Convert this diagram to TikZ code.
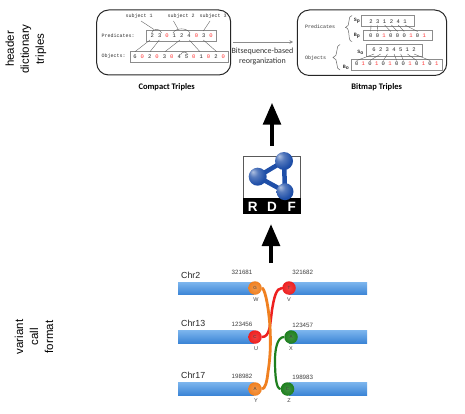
\documentclass[tikz,border=0pt]{standalone}
\usepackage{fontspec}
\setmainfont{Liberation Sans}
\newfontfamily\monof{Liberation Mono}
\newfontfamily\calib{Carlito}
\usetikzlibrary{arrows.meta,calc}
\definecolor{rdfblue}{HTML}{1F4FA8}
\definecolor{bartop}{HTML}{7DB6EE}
\definecolor{barbot}{HTML}{3C85D6}
\definecolor{grn}{HTML}{1E7F1E}
\definecolor{org}{HTML}{F08020}
\definecolor{redd}{HTML}{EE2020}
\pgfdeclareradialshading{bluegloss}{\pgfpoint{-14bp}{14bp}}{color(0bp)=(rdfblue!35!white);color(12bp)=(rdfblue!75!white);color(28bp)=(rdfblue);color(60bp)=(rdfblue!85!black)}
\tikzset{
 x=1pt,y=-1pt,
 side/.style={rotate=90,align=center,font=\fontsize{11.5}{15}\selectfont,inner sep=0},
 panel/.style={draw=black!85,line width=1pt,rounded corners=12pt,fill=white},
 cell/.style={draw=black!45,line width=.8pt,fill=white},
 mono/.style={font=\monof\fontsize{5}{6}\selectfont,text=black!80,inner sep=0},
 monob/.style={font=\monof\bfseries\fontsize{5}{6}\selectfont,text=black!80,inner sep=0},
 dig/.style={font=\monof\fontsize{5.5}{6}\selectfont,text=black!85,inner sep=0},
 digr/.style={font=\monof\fontsize{5.5}{6}\selectfont,text=red!80,inner sep=0},
 thinlink/.style={draw=black!65,line width=.35pt},
 captxt/.style={font=\calib\bfseries\fontsize{8.5}{10}\selectfont,inner sep=0},
 bigarrow/.style={-{Triangle[length=22pt,width=17.5pt]},line width=4.2pt,black},
 bar/.style={bottom color=barbot,top color=bartop,draw=none},
 lab/.style={font=\fontsize{8.8}{10}\selectfont,text=black!85,inner sep=0},
 num/.style={font=\fontsize{6.2}{7}\selectfont,text=black!75,inner sep=0},
 ltr/.style={font=\fontsize{5.5}{6}\selectfont,text=black!75,inner sep=0},
 ball/.style={circle,inner sep=0,minimum size=13.5pt,font=\fontsize{4.5}{5}\selectfont,text=black!75},
 ballo/.style={ball,inner color=org!80!white,outer color=org},
 ballr/.style={ball,inner color=redd!85!white,outer color=redd},
 ballg/.style={ball,inner color=grn!85!white,outer color=grn},
 rdfletter/.style={font=\bfseries\fontsize{13.5}{14}\selectfont,text=white,inner sep=0},
}
\newcommand{\digits}[4]{% x0, dx, y, list of value/colour
 \foreach \v/\c [count=\i from 0] in {#4}{\node[\c] at ({#1+\i*#2},#3) {\v};}}
\begin{document}
\begin{tikzpicture}
\useasboundingbox (0,0) rectangle (465,414);
\fill[white] (0,0) rectangle (465,414);
\node[side] (hdt) at (26,49) {header\\dictionary\\triples};
\node[side] (vcf) at (34,337) {variant\\call\\format};

% compact
\draw[panel] (96.7,10) rectangle (230.7,75);
\node[captxt] (ct) at (166.7,87.3) {Compact Triples};
\node[mono] at (139,16.7) {subject 1};
\node[mono] at (181,16.7) {subject 2};
\node[mono] (s3) at (213,16.7) {subject 3};
\node[mono,anchor=west] at (101.5,35.5) {Predicates:};
\node[mono,anchor=west] at (101.5,56.7) {Objects:};
\draw[cell] (146.7,30) rectangle (216,41.7);
\draw[cell] (130.7,51.7) rectangle (228,62.7);
\digits{152.3}{7.35}{35.3}{2/dig,3/dig,0/digr,1/dig,2/dig,4/dig,0/digr,3/dig,0/digr}
\digits{135}{7.36}{56.9}{6/dig,0/digr,2/dig,0/digr,3/dig,0/digr,4/dig,5/dig,0/digr,1/dig,0/digr,2/dig,0/digr}
\draw[thinlink] (141,21)--(154,29.5);
\draw[thinlink] (173.5,21)--(178.3,29.5);
\draw[thinlink] (210,21)--(203.3,31);
\draw[thinlink] (135,51.7)--(150,40);
\draw[thinlink] (150,51.7)--(159.3,40);
\draw[thinlink] (165,51.7)--(180,40);
\draw[thinlink] (200,51.7)--(189.3,40);
\draw[thinlink] (216.7,51.7)--(203.3,40);
\draw[thinlink] (151.7,33) .. controls (153,28) and (160,28) .. (161.7,33);
\draw[thinlink] (173,33) .. controls (176,27.5) and (187,27.5) .. (190,33);
\draw[thinlink] (180.5,55) .. controls (182,51) and (186.5,51) .. (188,55);

% connector between
\node[font=\calib\fontsize{8}{10}\selectfont,align=center,text=black!80,inner sep=0] (bs) at (262.5,56.5) {Bitsequence-based\\reorganization};
\coordinate (c1) at (233,42);
\coordinate (c2) at (293,42);
\draw[draw=black!45,line width=.8pt,-{Stealth[length=3.5pt,width=3.5pt]}] (c1)--(c2);

% bitmap
\draw[panel] (297.3,10) rectangle (446.7,75.5);
\node[captxt] (bt) at (376.7,87.3) {Bitmap Triples};
\node[mono,anchor=west] at (305,26.3) {Predicates};
\node[mono,anchor=west] at (305,58.3) {Objects};
\draw[black!60,line width=.5pt] (352,15.5) .. controls (347,15.5) and (351,27) .. (345.5,27.5) .. controls (351,28) and (347,41.5) .. (352,41.5);
\draw[black!60,line width=.5pt] (340,44.5) .. controls (335,44.5) and (339,57) .. (333,57.5) .. controls (339,58) and (335,70) .. (340,70);
\node[monob] at (357,20.5) {S\textsubscript{p}};
\node[monob] at (357,35.5) {B\textsubscript{p}};
\node[monob] at (360.5,52.5) {S\textsubscript{o}};
\node[monob] at (346,67) {B\textsubscript{o}};
\draw[cell] (361.7,15.7) rectangle (414.3,26.7);
\draw[cell] (363.3,30) rectangle (432.7,40.7);
\draw[cell] (366.7,44.3) rectangle (422.3,56);
\draw[cell] (351.7,59) rectangle (442.3,70);
\digits{371}{6.8}{21.5}{2/dig,3/dig,1/dig,2/dig,4/dig,1/dig}
\digits{370.7}{6.7}{35.3}{0/dig,0/dig,1/digr,0/dig,0/dig,0/dig,1/digr,0/dig,1/digr}
\digits{374}{6.67}{50}{6/dig,2/dig,3/dig,4/dig,5/dig,1/dig,2/dig}
\digits{356.7}{6.67}{64}{0/dig,1/digr,0/dig,1/digr,0/dig,1/digr,0/dig,0/dig,1/digr,0/dig,1/digr,0/dig,1/digr}
\foreach \a/\b in {371/370.7,377.8/377.4,384.6/390.8,391.4/397.5,398.2/404.2,405/417.6}{\draw[thinlink] (\a,25)--(\b,31.5);}
\foreach \a/\b in {374/356.7,380.7/370,387.4/383.4,394/396.7,400.7/403.4,407.4/416.7,414/430}{\draw[thinlink] (\a,54)--(\b,60.5);}

% arrows
\coordinate (a1) at (272,146);
\coordinate (a2) at (272,102.7);
\coordinate (b1) at (271,263);
\coordinate (b2) at (271,224);
\draw[bigarrow] (a1)--(a2);
\draw[bigarrow] (b1)--(b2);

% RDF logo
\fill[white] (243,157) rectangle (300,197);
\draw[black!65,line width=1pt] (243,198) -- (243,156.8) -- (300.5,156.8) -- (300.5,198);
\fill[black] (242.5,197.7) rectangle (301,214.3);
\node[rdfletter] (r) at (252.7,206.5) {R};
\node[rdfletter] (d) at (272,206.5) {D};
\node[rdfletter] (f) at (291.7,206.5) {F};
\draw[rdfblue,line width=4.5pt,line join=round] (257.7,176.7) -- (284,161) -- (285,191.7) -- cycle;
\shade[shading=bluegloss] (257.7,176.7) circle (9);
\shade[shading=bluegloss] (284,161) circle (9);
\shade[shading=bluegloss] (285,191.7) circle (8.5);

% VCF
\fill[bar] (178,282) rectangle (254,294.5);
\fill[bar] (289,282) rectangle (367,294.5);
\fill[bar] (178,330) rectangle (254,343);
\fill[bar] (289,330) rectangle (367,343);
\fill[bar] (178,382) rectangle (254,395);
\fill[bar] (289,382) rectangle (367,395);
\node[lab,anchor=west] at (181,275) {Chr2};
\node[lab,anchor=west] at (181,323) {Chr13};
\node[lab,anchor=west] at (181,375.5) {Chr17};
\node[num] at (242,272.7) {321681};
\node[num] at (302.7,272.7) {321682};
\node[num] at (242,324.5) {123456};
\node[num] at (302.7,325) {123457};
\node[num] at (242,376.5) {198982};
\node[num] at (302.7,377) {198983};
\node[ltr] at (256,300) {W};
\node[ltr] at (289,300) {V};
\node[ltr] at (256,349) {U};
\node[ltr] at (291,349) {X};
\node[ltr] at (256,401) {Y};
\node[ltr] at (289,401) {Z};
\node[ballo] (G) at (255,288) {G};
\node[ballr] (T) at (289,288) {T};
\node[ballr] (C) at (255,337) {C};
\node[ballg] (A2) at (291,337) {A};
\node[ballo] (A) at (255,389) {A};
\node[ballg] (C2) at (287.5,389) {C};
\draw[redd,line width=2.5pt] (T.west) .. controls (276,288) and (274,298) .. (272,310) .. controls (270,325) and (270,337) .. (C.east);
\draw[org,line width=2.8pt] (G.east) .. controls (264,288) and (268,300) .. (270,327) .. controls (271,345) and (270,360) .. (268,372) .. controls (267,382) and (265,389) .. (A.east);
\draw[grn,line width=2.2pt] (A2.west) .. controls (277,337) and (275,350) .. (275,360) .. controls (275,375) and (276,389) .. (C2.west);
\end{tikzpicture}
\end{document}
